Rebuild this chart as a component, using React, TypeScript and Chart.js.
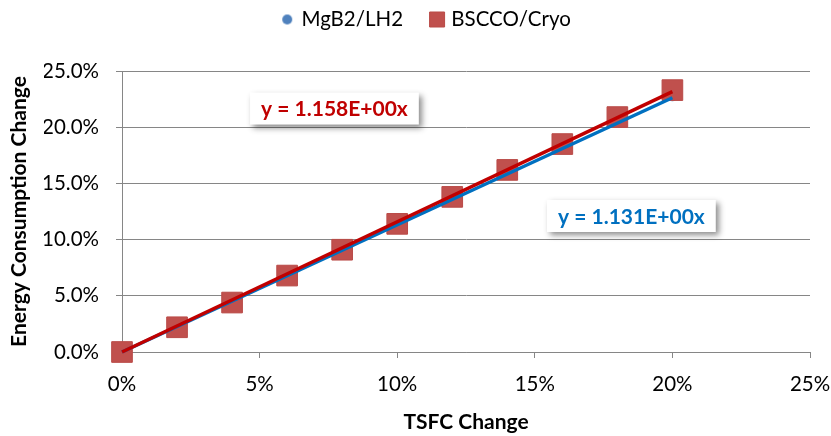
import React, { useEffect, useRef } from "react";
import { Chart, registerables } from "chart.js";

Chart.register(...registerables);

// ---- data (percent values) ----
const tsfcChange = [0, 2, 4, 6, 8, 10, 12, 14, 16, 18, 20];
const mgb2Energy = [0, 2.2, 4.4, 6.7, 9.0, 11.3, 13.6, 15.8, 18.1, 20.4, 22.7];
const bsccoEnergy = [0, 2.2, 4.4, 6.8, 9.1, 11.4, 13.8, 16.2, 18.5, 20.9, 23.3];
const trendX = [0, 20];
const mgb2TrendY = [0, 22.62];
const bsccoTrendY = [0, 23.16];
const seriesNames = ["MgB2/LH2", "BSCCO/Cryo"];
const trendEquations = ["y = 1.131E+00x", "y = 1.158E+00x"];
const xTickValues = [0, 5, 10, 15, 20, 25];
const yTickValues = [0, 5, 10, 15, 20, 25];
const xTitle = "TSFC Change";
const yTitle = "Energy Consumption Change";

const FONT = "Lato, 'Open Sans', sans-serif";
const BLUE_MARK = "#4F81BD";
const RED_MARK = "#C0504D";
const BLUE_LINE = "#0070C0";
const RED_LINE = "#C00000";
const GRID = "#868686";
const TEXT = "#000000";

const toPoints = (xs: number[], ys: number[]) => xs.map((x, i) => ({ x, y: ys[i] }));

const equationPlugin = {
  id: "equationLabels",
  afterDatasetsDraw(chart: any) {
    const { ctx, scales } = chart;
    const xs = scales.x;
    const ys = scales.y;
    const items = [
      { text: trendEquations[1], color: RED_LINE, px: 7.72, py: 21.66 },
      { text: trendEquations[0], color: BLUE_LINE, px: 18.51, py: 12.1 },
    ];
    ctx.save();
    ctx.font = `bold 21px ${FONT}`;
    items.forEach((it) => {
      const cx = xs.getPixelForValue(it.px);
      const cy = ys.getPixelForValue(it.py);
      const w = ctx.measureText(it.text).width + 22;
      const h = 32;
      ctx.shadowColor = "rgba(0,0,0,0.45)";
      ctx.shadowBlur = 6;
      ctx.shadowOffsetX = 3;
      ctx.shadowOffsetY = 3;
      ctx.fillStyle = "#ffffff";
      ctx.fillRect(cx - w / 2, cy - h / 2, w, h);
      ctx.shadowColor = "rgba(0,0,0,0)";
      ctx.shadowBlur = 0;
      ctx.shadowOffsetX = 0;
      ctx.shadowOffsetY = 0;
      ctx.fillStyle = it.color;
      ctx.textAlign = "center";
      ctx.textBaseline = "middle";
      ctx.fillText(it.text, cx, cy + 1);
    });
    ctx.restore();
  },
};

export default function App() {
  const canvasRef = useRef<HTMLCanvasElement | null>(null);

  useEffect(() => {
    document.body.style.margin = "0";
    const canvas = canvasRef.current;
    if (!canvas) return;

    const dot = document.createElement("canvas");
    dot.width = 12;
    dot.height = 12;
    const dctx = dot.getContext("2d");
    if (dctx) {
      dctx.fillStyle = BLUE_MARK;
      dctx.beginPath();
      dctx.arc(6, 6, 5, 0, Math.PI * 2);
      dctx.fill();
    }

    const chart = new Chart(canvas, {
      type: "scatter",
      data: {
        datasets: [
          {
            label: seriesNames[0],
            data: toPoints(tsfcChange, mgb2Energy),
            pointStyle: "circle",
            pointRadius: 4.5,
            backgroundColor: BLUE_MARK,
            borderColor: BLUE_MARK,
            borderWidth: 0,
            clip: false,
            order: 3,
          },
          {
            label: seriesNames[1],
            data: toPoints(tsfcChange, bsccoEnergy),
            pointStyle: "rect",
            pointRadius: 14.6,
            backgroundColor: RED_MARK,
            borderColor: "#B94A47",
            borderWidth: 1,
            clip: false,
            order: 2,
          },
          {
            label: "trend1",
            data: toPoints(trendX, mgb2TrendY),
            showLine: true,
            pointRadius: 0,
            borderColor: BLUE_LINE,
            borderWidth: 3.5,
            clip: false,
            order: 1,
          },
          {
            label: "trend2",
            data: toPoints(trendX, bsccoTrendY),
            showLine: true,
            pointRadius: 0,
            borderColor: RED_LINE,
            borderWidth: 3.5,
            clip: false,
            order: 0,
          },
        ],
      },
      options: {
        animation: false,
        responsive: false,
        events: [],
        layout: { padding: { top: -20.75, left: 44, right: 21, bottom: 0 } },
        font: { family: FONT },
        plugins: {
          tooltip: { enabled: false },
          title: {
            display: true,
            text: " ",
            position: "top",
            weight: 100,
            padding: { top: 21.25, bottom: 0 },
            font: { size: 10, lineHeight: 1 },
          },
          legend: {
            position: "top",
            align: "center",
            weight: 3000,
            labels: {
              usePointStyle: true,
              boxWidth: 8,
              boxHeight: 15,
              padding: 30,
              color: TEXT,
              font: { size: 20.5, family: FONT },
              generateLabels: (ch: any) => {
                const base = (Chart.defaults.plugins.legend.labels as any).generateLabels(ch);
                return base
                  .filter((i: any) => i.datasetIndex < 2)
                  .sort((a: any, b: any) => a.datasetIndex - b.datasetIndex)
                  .map((i: any) => (i.datasetIndex === 0 ? { ...i, pointStyle: dot, lineWidth: 0 } : i));
              },
            },
          },
        },
        scales: {
          x: {
            type: "linear",
            min: 0,
            max: 25,
            afterBuildTicks: (s: any) => {
              s.ticks = xTickValues.map((v) => ({ value: v }));
            },
            afterFit: (s: any) => {
              s.height = 84;
              s.paddingRight = 0;
              s.paddingLeft = 0;
            },
            ticks: {
              padding: 14,
              color: TEXT,
              font: { size: 20.5, family: FONT },
              callback: (v: any) => `${v}%`,
            },
            grid: {
              drawOnChartArea: false,
              drawTicks: true,
              tickLength: 6,
              color: GRID,
              lineWidth: 1,
            },
            border: { display: true, color: GRID, width: 1 },
            title: {
              display: true,
              text: xTitle,
              color: TEXT,
              font: { size: 21, weight: "bold", family: FONT },
              padding: { top: 0, bottom: 1 },
            },
          },
          y: {
            type: "linear",
            min: 0,
            max: 25,
            afterBuildTicks: (s: any) => {
              s.ticks = yTickValues.map((v) => ({ value: v }));
            },
            afterFit: (s: any) => {
              s.width = 78;
            },
            ticks: {
              padding: 17,
              color: TEXT,
              font: { size: 20.5, family: FONT },
              callback: (v: any) => `${Number(v).toFixed(1)}%`,
            },
            grid: {
              drawTicks: true,
              tickLength: 6,
              color: GRID,
              lineWidth: 1,
            },
            border: { display: true, color: GRID, width: 1 },
            title: {
              display: true,
              text: yTitle,
              color: TEXT,
              font: { size: 21, weight: "bold", family: FONT },
              padding: { top: -37.6, bottom: 0 },
            },
          },
        },
      } as any,
      plugins: [equationPlugin],
    });

    return () => {
      chart.destroy();
    };
  }, []);

  return (
    <div style={{ width: 831, height: 436 }}>
      <canvas ref={canvasRef} width={831} height={436} style={{ display: "block" }} />
    </div>
  );
}
